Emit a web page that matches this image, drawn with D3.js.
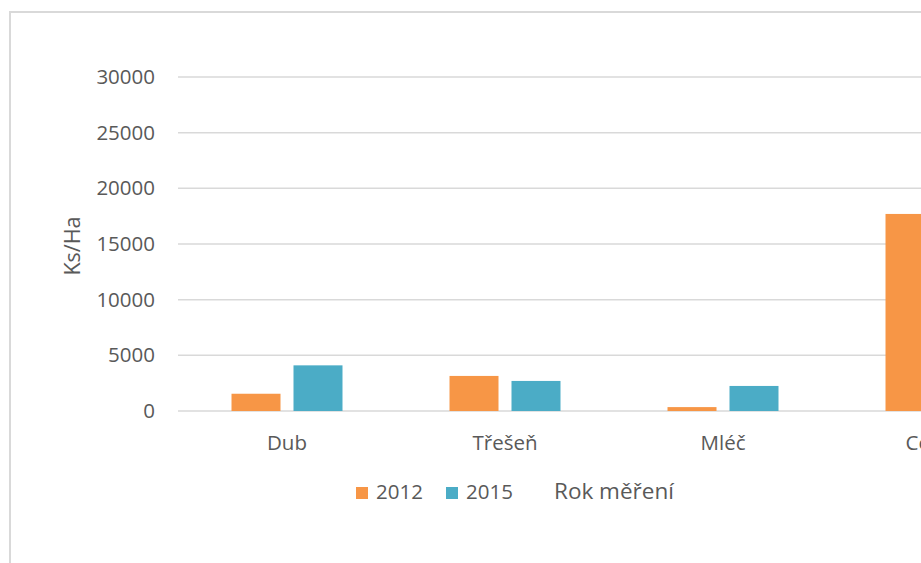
<!DOCTYPE html>
<html>
<head>
<meta charset="utf-8">
<script src="https://cdn.jsdelivr.net/npm/d3@7"></script>
<style>
  html, body { margin: 0; padding: 0; background: #fff; overflow: hidden; }
  svg { display: block; }
  text { font-family: "Open Sans", "Liberation Sans", sans-serif; fill: #595959; }
</style>
</head>
<body>
<svg id="chart" width="921" height="563"></svg>
<script>
// ---- data ----
const categories = ["Dub", "Třešeň", "Mléč", "Celkem"];
const seriesNames = ["2012", "2015"];
const values2012 = [1550, 3150, 350, 17700];
const values2015 = [4100, 2700, 2250, null];
const yTicks = [0, 5000, 10000, 15000, 20000, 25000, 30000];
const yTitle = "Ks/Ha";
const xTitle = "Rok měření";
const colors = ["#F79646", "#4BACC6"];

const svg = d3.select("#chart");
const W = 921, H = 563;

// chart area border (extends beyond the visible frame)
svg.append("rect")
  .attr("x", 10).attr("y", 12)
  .attr("width", 1100).attr("height", 700)
  .attr("fill", "#fff")
  .attr("stroke", "#d9d9d9").attr("stroke-width", 2);

const plotLeft = 178, plotTop = 77, plotBottom = 411;
const band = 218;

const x = d3.scaleBand()
  .domain(categories)
  .range([plotLeft, plotLeft + band * categories.length])
  .paddingInner(0).paddingOuter(0);

const xs = d3.scaleBand()
  .domain(seriesNames)
  .range([0, x.bandwidth()])
  .paddingInner(13 / 62)
  .paddingOuter(0.863);

const y = d3.scaleLinear().domain([0, 30000]).range([plotBottom, plotTop]);

// gridlines
const grid = svg.append("g");
grid.selectAll("line").data(yTicks).join("line")
  .attr("x1", plotLeft).attr("x2", plotLeft + band * categories.length)
  .attr("y1", d => y(d)).attr("y2", d => y(d))
  .attr("stroke", "#d9d9d9").attr("stroke-width", 1.5);

// y axis labels
const yAxis = svg.append("g").attr("transform", `translate(${plotLeft - 23},0)`)
  .call(d3.axisLeft(y).tickValues(yTicks).tickSize(0).tickPadding(0).tickFormat(d3.format("d")));
yAxis.select(".domain").remove();
yAxis.selectAll("text")
  .attr("font-size", "20.5px")
  .attr("fill", "#595959")
  .style("font-family", "'Open Sans', sans-serif");

// bars
const rows = categories.map((c, i) => ({ cat: c, vals: [values2012[i], values2015[i]] }));
const groups = svg.append("g").selectAll("g").data(rows).join("g")
  .attr("transform", d => `translate(${x(d.cat)},0)`);
groups.selectAll("rect")
  .data(d => d.vals.map((v, j) => ({ s: seriesNames[j], v, j })).filter(e => e.v != null))
  .join("rect")
  .attr("x", d => xs(d.s))
  .attr("width", xs.bandwidth())
  .attr("y", d => y(d.v))
  .attr("height", d => y(0) - y(d.v))
  .attr("fill", d => colors[d.j]);

// x axis labels
const xAxis = svg.append("g").attr("transform", `translate(0,${plotBottom})`)
  .call(d3.axisBottom(x).tickSize(0).tickPadding(0));
xAxis.select(".domain").remove();
xAxis.selectAll("text")
  .attr("y", 39)
  .attr("dy", null)
  .attr("font-size", "20.5px")
  .attr("fill", "#595959")
  .style("font-family", "'Open Sans', sans-serif");

// y title
svg.append("text")
  .attr("transform", "translate(80,246) rotate(-90)")
  .attr("text-anchor", "middle")
  .attr("font-size", "21.5px")
  .text(yTitle);

// legend
const legendX = [356, 446];
const leg = svg.append("g");
seriesNames.forEach((s, i) => {
  leg.append("rect").attr("x", legendX[i]).attr("y", 487).attr("width", 12).attr("height", 12).attr("fill", colors[i]);
  leg.append("text").attr("x", legendX[i] + 20).attr("y", 498.5).attr("font-size", "20.5px").text(s);
});
leg.append("text").attr("x", 554).attr("y", 498.5).attr("font-size", "22.5px").text(xTitle);
</script>
</body>
</html>
